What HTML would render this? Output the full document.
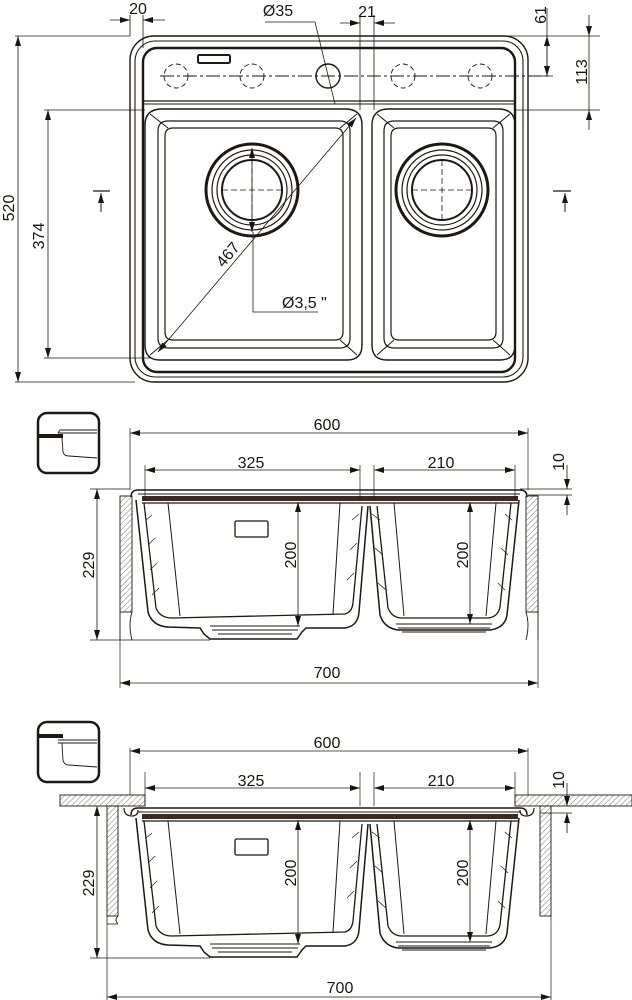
<!DOCTYPE html>
<html><head><meta charset="utf-8"><style>
html,body{margin:0;padding:0;background:#fff;}
svg{display:block;}
text{font-family:"Liberation Sans Narrow","Liberation Sans",sans-serif;font-size:16px;fill:#1a1410;}
</style></head><body>
<svg width="632" height="1000" viewBox="0 0 632 1000" xmlns="http://www.w3.org/2000/svg">
<defs>
<marker id="a" viewBox="0 0 10 6" refX="10" refY="3" markerWidth="10" markerHeight="6" orient="auto-start-reverse" markerUnits="userSpaceOnUse"><path d="M0,0 L10,3 L0,6 z" fill="#1a1410"/></marker>
<pattern id="h" width="4" height="4" patternUnits="userSpaceOnUse" patternTransform="rotate(45)"><line x1="0" y1="0" x2="0" y2="4" stroke="#555" stroke-width="0.8"/></pattern>
<g id="sec" fill="none" stroke="#1f1712">
  <path d="M131,497 Q131,490 138,490 L520,490 Q527,490 527,497" stroke-width="1.5"/>
  <line x1="138" y1="494" x2="520" y2="494" stroke-width="1"/>
  <rect x="142" y="496" width="376" height="5" fill="#3a2a20" stroke="none"/>
  <line x1="142" y1="503" x2="518" y2="503" stroke-width="1.3"/>
  <path d="M136,500 L148,612 Q152,626 168,627 L200,628 L204,634 L210,639 L297,639 L302,632 L306,628 L345,628 Q358,626 359,612 L368,506" stroke-width="1.5"/>
  <path d="M144,503 L156,608 Q160,618 172,618 L345,614 Q352,612 353,603 L362,506" stroke-width="1.3"/>
  <path d="M168,503 L180,616 M340,503 L333,614" stroke-width="1"/>
  <path d="M210,626 L300,626 M212,630 L298,630 M218,634 L292,634" stroke-width="1.1"/>
  <rect x="235" y="521" width="33" height="16" rx="1.5" stroke-width="1.3"/>
  <path d="M370,506 L380,615 Q384,628 398,630 L490,630 Q505,628 507,615 L519,500" stroke-width="1.5"/>
  <path d="M377,506 L388,608 Q392,618 402,618 L488,618 Q498,617 500,607 L511,503" stroke-width="1.3"/>
  <path d="M394,503 L404,616 M496,503 L486,616" stroke-width="1"/>
  <path d="M396,624 L492,624 M398,628 L490,628 M402,632 L486,632" stroke-width="1.1"/>
  <path d="M146,520 L152,515 M148,545 L155,538 M150,570 L157,563 M152,595 L159,588 M352,520 L359,514 M350,550 L357,543 M347,580 L354,573 M380,520 L372,514 M383,555 L375,548 M386,590 L378,583 M512,520 L505,514 M508,555 L501,548 M505,590 L498,583" stroke-width="0.7"/>
  <line x1="298" y1="502" x2="298" y2="626" stroke-width="0.8" marker-start="url(#a)" marker-end="url(#a)"/>
  <line x1="470" y1="502" x2="470" y2="624" stroke-width="0.8" marker-start="url(#a)" marker-end="url(#a)"/>
</g>
</defs>

<g fill="none" stroke="#1f1712">
<rect x="130" y="36" width="398" height="346" rx="24" stroke-width="1.4"/>
<rect x="135" y="41" width="388" height="336" rx="20" stroke-width="1.1"/>
<rect x="143" y="48" width="372" height="324" rx="14" stroke-width="2.4"/>
<line x1="143" y1="101" x2="515" y2="101" stroke-width="1.3"/>
<line x1="143" y1="104" x2="515" y2="104" stroke-width="1"/>
<rect x="198" y="55" width="32" height="8" rx="1.5" stroke-width="2"/>
<g stroke-width="0.9" stroke-dasharray="5,3">
<circle cx="176" cy="76" r="12"/><circle cx="252" cy="76" r="12"/><circle cx="403" cy="76" r="12"/><circle cx="480" cy="76" r="12"/>
<line x1="160" y1="76" x2="550" y2="76" stroke-dasharray="14,3,3,3"/>
</g>
<circle cx="328" cy="76" r="12" stroke-width="1.4"/>
<path d="M160,109 L347,109 Q362,110 362,125 L362,345 Q362,360 347,360 L160,360 Q145,360 145,345 L145,125 Q145,110 160,109 Z" stroke-width="1.4"/>
<path d="M168,121 L340,121 Q350,121 350,131 L350,338 Q350,348 340,348 L168,348 Q158,348 158,338 L158,131 Q158,121 168,121 Z" stroke-width="1.2"/>
<path d="M173,128 L335,128 Q343,128 343,136 L343,332 Q343,340 335,340 L173,340 Q165,340 165,332 L165,136 Q165,128 173,128 Z" stroke-width="1.2"/>
<path d="M150,114 L168,128 M357,114 L340,128 M150,355 L168,340 M357,355 L340,340" stroke-width="1"/>
<path d="M387,109 L500,109 Q515,110 515,125 L515,345 Q515,360 500,360 L387,360 Q372,360 372,345 L372,125 Q372,110 387,109 Z" stroke-width="1.4"/>
<path d="M394,121 L493,121 Q503,121 503,131 L503,338 Q503,348 493,348 L394,348 Q384,348 384,338 L384,131 Q384,121 394,121 Z" stroke-width="1.2"/>
<path d="M399,128 L488,128 Q496,128 496,136 L496,332 Q496,340 488,340 L399,340 Q391,340 391,332 L391,136 Q391,128 399,128 Z" stroke-width="1.2"/>
<path d="M377,114 L394,128 M510,114 L493,128 M377,355 L394,340 M510,355 L493,340" stroke-width="1"/>
<circle cx="252" cy="190" r="46" stroke-width="3"/><circle cx="252" cy="190" r="40" stroke-width="1.2"/><circle cx="252" cy="190" r="35" stroke-width="1.2"/><circle cx="252" cy="190" r="30" stroke-width="2"/>
<circle cx="442" cy="190" r="46" stroke-width="3"/><circle cx="442" cy="190" r="40" stroke-width="1.2"/><circle cx="442" cy="190" r="35" stroke-width="1.2"/><circle cx="442" cy="190" r="30" stroke-width="2"/>
<path d="M222,190 L282,190 M252,150 L252,232 M412,190 L472,190 M442,160 L442,222" stroke-width="0.8" stroke-dasharray="6,3"/>
<line x1="252" y1="148" x2="252" y2="232" stroke-width="0.8" marker-start="url(#a)" marker-end="url(#a)"/>
<path d="M253,232 L253,312 L318,312" stroke-width="0.8"/>
<line x1="158" y1="352" x2="356" y2="118" stroke-width="0.8" marker-start="url(#a)" marker-end="url(#a)"/>
<path d="M130,36 L130,15 M143,48 L143,15 M360,110 L360,15 M374,110 L374,15" stroke-width="0.8"/>
<line x1="110" y1="20" x2="130" y2="20" stroke-width="0.8" marker-end="url(#a)"/>
<line x1="165" y1="20" x2="143" y2="20" stroke-width="0.8" marker-end="url(#a)"/>
<line x1="340" y1="23" x2="360" y2="23" stroke-width="0.8" marker-end="url(#a)"/>
<line x1="395" y1="23" x2="374" y2="23" stroke-width="0.8" marker-end="url(#a)"/>
<path d="M265,22 L315,22 L335,104" stroke-width="0.8"/>
<path d="M375,36 L600,36 M515,110 L600,110 M530,76 L553,76" stroke-width="0.8"/>
<line x1="547" y1="36" x2="547" y2="76" stroke-width="0.8" marker-start="url(#a)" marker-end="url(#a)"/>
<line x1="589" y1="15" x2="589" y2="36" stroke-width="0.8" marker-end="url(#a)"/>
<line x1="589" y1="130" x2="589" y2="110" stroke-width="0.8" marker-end="url(#a)"/>
<line x1="589" y1="36" x2="589" y2="110" stroke-width="0.8"/>
<line x1="547" y1="8" x2="547" y2="76" stroke-width="0.8"/>
<path d="M15,36 L130,36 M15,382 L135,382 M44,110 L145,110 M44,358 L150,358" stroke-width="0.8"/>
<line x1="18" y1="36" x2="18" y2="382" stroke-width="0.8" marker-start="url(#a)" marker-end="url(#a)"/>
<line x1="48" y1="110" x2="48" y2="358" stroke-width="0.8" marker-start="url(#a)" marker-end="url(#a)"/>
<path d="M93,191 L110,191 M553,191 L571,191" stroke-width="1.2"/>
<line x1="101" y1="212" x2="101" y2="193" stroke-width="1" marker-end="url(#a)"/>
<line x1="565" y1="212" x2="565" y2="193" stroke-width="1" marker-end="url(#a)"/>

<rect x="38" y="413" width="61" height="60" rx="9" stroke-width="2.5"/>
<rect x="39" y="434" width="24" height="4" fill="#1f1712" stroke="none"/>
<path d="M58,433 L60,430 L97,430 M58,433 L97,433 M62,438 L63,452 Q64,456 69,456 L97,458" stroke-width="0.9"/>
<rect x="38" y="722" width="61" height="60" rx="9" stroke-width="2.5"/>
<rect x="39" y="734" width="24" height="4" fill="#1f1712" stroke="none"/>
<path d="M58,740 L97,740 M58,743 L97,743 M62,743 L63,760 Q64,765 69,765 L97,767" stroke-width="0.9"/>
</g>

<use href="#sec"/>
<g fill="none" stroke="#1f1712">
<rect x="120" y="496" width="12" height="116" fill="url(#h)" stroke-width="0.9"/>
<path d="M120,612 L120,640 M132,612 Q128,625 132,640" stroke-width="0.9"/>
<rect x="526" y="496" width="12" height="116" fill="url(#h)" stroke-width="0.9"/>
<path d="M538,612 L538,640 M526,612 Q530,625 526,640" stroke-width="0.9"/>
<path d="M130,490 L130,428 M528,490 L528,428 M145,500 L145,465 M360,500 L360,465 M374,500 L374,465 M515,500 L515,465" stroke-width="0.7"/>
<line x1="130" y1="433" x2="528" y2="433" stroke-width="0.8" marker-start="url(#a)" marker-end="url(#a)"/>
<line x1="145" y1="470" x2="360" y2="470" stroke-width="0.8" marker-start="url(#a)" marker-end="url(#a)"/>
<line x1="374" y1="470" x2="515" y2="470" stroke-width="0.8" marker-start="url(#a)" marker-end="url(#a)"/>
<path d="M90,489 L130,489 M90,640 L210,640 M520,489 L572,489 M528,495 L572,495 M120,640 L120,688 M538,640 L538,688" stroke-width="0.7"/>
<line x1="97" y1="489" x2="97" y2="640" stroke-width="0.8" marker-start="url(#a)" marker-end="url(#a)"/>
<line x1="567" y1="465" x2="567" y2="489" stroke-width="0.8" marker-end="url(#a)"/>
<line x1="567" y1="515" x2="567" y2="495" stroke-width="0.8" marker-end="url(#a)"/>
<line x1="120" y1="683" x2="538" y2="683" stroke-width="0.8" marker-start="url(#a)" marker-end="url(#a)"/>
</g>

<use href="#sec" transform="translate(0,318)"/>
<g fill="none" stroke="#1f1712">
<rect x="60" y="795" width="85" height="11" fill="url(#h)" stroke-width="0.9"/>
<rect x="515" y="795" width="117" height="11" fill="url(#h)" stroke-width="0.9"/>
<rect x="107" y="806" width="11" height="110" fill="url(#h)" stroke-width="0.9"/>
<path d="M107,916 L107,924 M118,916 Q114,920 118,924 M107,924 L118,924" stroke-width="0.8"/>
<rect x="540" y="806" width="11" height="110" fill="url(#h)" stroke-width="0.9"/>
<path d="M124,808 Q124,816 132,816 Q138,816 138,810 M534,808 Q534,816 526,816 Q520,816 520,810" stroke-width="1.2"/>
<path d="M130,795 L130,748 M528,795 L528,748 M145,806 L145,772 M360,806 L360,772 M374,806 L374,772 M515,806 L515,772" stroke-width="0.7"/>
<line x1="130" y1="751" x2="528" y2="751" stroke-width="0.8" marker-start="url(#a)" marker-end="url(#a)"/>
<line x1="145" y1="788" x2="360" y2="788" stroke-width="0.8" marker-start="url(#a)" marker-end="url(#a)"/>
<line x1="374" y1="788" x2="515" y2="788" stroke-width="0.8" marker-start="url(#a)" marker-end="url(#a)"/>
<path d="M90,958 L210,958 M107,924 L107,1000 M551,916 L551,1000 M540,813 L572,813" stroke-width="0.7"/>
<line x1="97" y1="806" x2="97" y2="958" stroke-width="0.8" marker-start="url(#a)" marker-end="url(#a)"/>
<line x1="567" y1="783" x2="567" y2="806" stroke-width="0.8" marker-end="url(#a)"/>
<line x1="567" y1="833" x2="567" y2="813" stroke-width="0.8" marker-end="url(#a)"/>
<line x1="107" y1="997" x2="551" y2="997" stroke-width="0.8" marker-start="url(#a)" marker-end="url(#a)"/>
</g>

<text x="138" y="14" text-anchor="middle">20</text>
<text x="278" y="16" text-anchor="middle">Ø35</text>
<text x="367" y="17" text-anchor="middle">21</text>
<text transform="translate(546,15) rotate(-90)" text-anchor="middle">61</text>
<text transform="translate(587,72) rotate(-90)" text-anchor="middle">113</text>
<text transform="translate(14,208) rotate(-90)" text-anchor="middle">520</text>
<text transform="translate(44,236) rotate(-90)" text-anchor="middle">374</text>
<text transform="translate(232,258) rotate(-50)" text-anchor="middle">467</text>
<text x="282" y="308">Ø3,5 "</text>

<text x="327" y="430" text-anchor="middle">600</text>
<text x="251" y="468" text-anchor="middle">325</text>
<text x="441" y="468" text-anchor="middle">210</text>
<text transform="translate(564,462) rotate(-90)" text-anchor="middle">10</text>
<text transform="translate(94,565) rotate(-90)" text-anchor="middle">229</text>
<text transform="translate(296,555) rotate(-90)" text-anchor="middle">200</text>
<text transform="translate(468,555) rotate(-90)" text-anchor="middle">200</text>
<text x="327" y="678" text-anchor="middle">700</text>

<text x="327" y="748" text-anchor="middle">600</text>
<text x="251" y="786" text-anchor="middle">325</text>
<text x="441" y="786" text-anchor="middle">210</text>
<text transform="translate(564,780) rotate(-90)" text-anchor="middle">10</text>
<text transform="translate(94,883) rotate(-90)" text-anchor="middle">229</text>
<text transform="translate(296,873) rotate(-90)" text-anchor="middle">200</text>
<text transform="translate(468,873) rotate(-90)" text-anchor="middle">200</text>
<text x="340" y="993" text-anchor="middle">700</text>
</svg>
</body></html>
